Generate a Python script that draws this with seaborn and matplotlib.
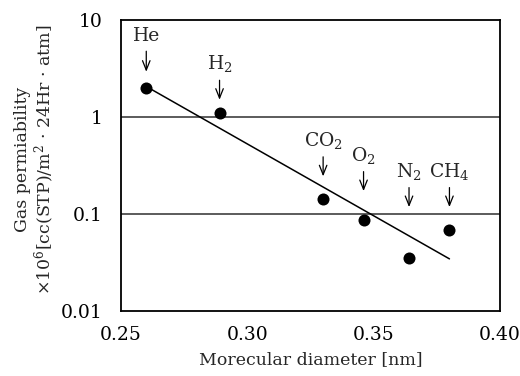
import numpy as np
import pandas as pd
import matplotlib
matplotlib.use("Agg")
import matplotlib.pyplot as plt
import seaborn as sns

# data
gases = ["He", "H2", "CO2", "O2", "N2", "CH4"]
labels = ["He", "H$_2$", "CO$_2$", "O$_2$", "N$_2$", "CH$_4$"]
diameter = [0.260, 0.289, 0.330, 0.346, 0.364, 0.380]
permeability = [2.0, 1.1, 0.143, 0.087, 0.035, 0.068]
# where each label's arrow ends (data units)
arrow_tip = [2.92, 1.5, 0.243, 0.171, 0.117, 0.117]

df = pd.DataFrame({"gas": gases, "d": diameter, "p": permeability})

sns.set_theme(style="white")
plt.rcParams["font.family"] = ["DejaVu Serif"]
plt.rcParams["mathtext.fontset"] = "dejavuserif"

fig = plt.figure(figsize=(5.2, 3.76), dpi=100)
ax = fig.add_axes([0.2327, 0.174, 0.7288, 0.773])

ax.set_yscale("log")
ax.set_xlim(0.25, 0.40)
ax.set_ylim(0.01, 10)

# horizontal grid at the decades only
for yv in [0.1, 1]:
    ax.axhline(yv, color="#404040", lw=1.2, zorder=1)

# regression line in log space
coef = np.polyfit(df["d"], np.log10(df["p"]), 1)
xs = np.array([df["d"].min(), df["d"].max()])
sns.lineplot(x=xs, y=10 ** np.polyval(coef, xs), color="black", lw=1.1, ax=ax, zorder=2)

sns.scatterplot(data=df, x="d", y="p", color="black", s=75, edgecolor="black",
                linewidth=0, ax=ax, zorder=3)

for lab, x, tip in zip(labels, diameter, arrow_tip):
    ax.annotate(lab, xy=(x, tip), xytext=(0, 22), textcoords="offset points",
                ha="center", va="baseline", fontsize=13.5,
                arrowprops=dict(arrowstyle="->,head_length=0.5,head_width=0.2",
                                color="black", lw=0.9, shrinkA=2, shrinkB=0))

ax.set_xticks([0.25, 0.30, 0.35, 0.40])
ax.set_xticklabels(["0.25", "0.30", "0.35", "0.40"])
ax.set_yticks([0.01, 0.1, 1, 10])
ax.set_yticklabels(["0.01", "0.1", "1", "10"])
ax.minorticks_off()
ax.tick_params(axis="both", length=0, labelsize=13.5, colors="black")
ax.tick_params(axis="y", pad=13)
ax.tick_params(axis="x", pad=11)

for s in ax.spines.values():
    s.set_color("black")
    s.set_linewidth(1.3)
    s.set_visible(True)

ax.set_xlabel("Morecular diameter [nm]", fontsize=12.5, labelpad=5)
ax.set_ylabel("Gas permiability\n×10$^6$[cc(STP)/m$^2$ · 24Hr · atm]",
              fontsize=12.5, labelpad=6, linespacing=1.1)
ax.yaxis.set_label_coords(-0.17, 0.52)

fig.savefig("out.png", dpi=100, facecolor="white")
